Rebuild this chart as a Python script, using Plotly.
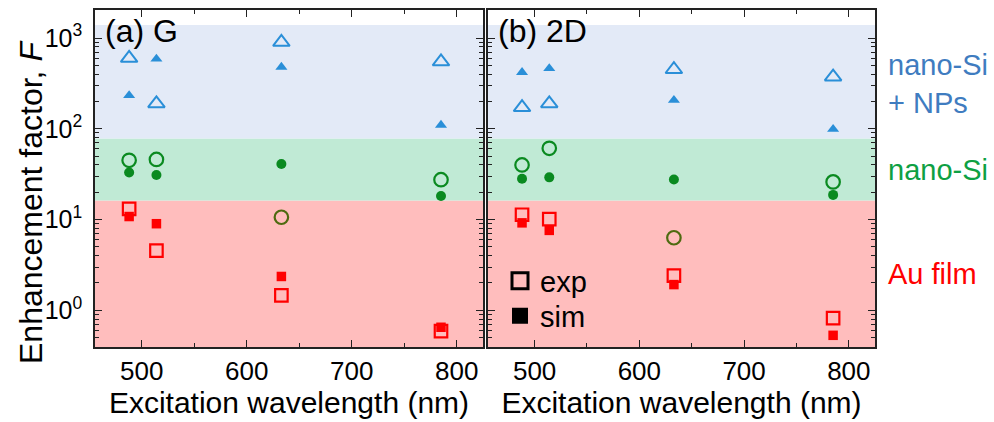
import plotly.graph_objects as go

# ---------------- data ----------------
wavelengths = [488, 514, 633, 785]

# (a) G band
g_np_exp = [600, 190, 900, 550]
g_np_sim = [233, 590, 480, 110]
g_si_exp = [45, 46, 10.6, 27.5]
g_si_sim = [33, 31, 41, 18.2]
g_au_exp = [13.1, 4.55, 1.46, 0.59]
g_au_sim = [10.8, 9.0, 2.36, 0.65]

# (b) 2D band
d_np_exp = [172, 190, 452, 374]
d_np_sim = [419, 463, 207, 99]
d_si_exp = [40, 61, 6.3, 26]
d_si_sim = [28.2, 29.2, 27.6, 18.7]
d_au_exp = [11.3, 10.1, 2.41, 0.82]
d_au_sim = [9.2, 7.6, 1.92, 0.53]

band_edges = [0.394, 16.2, 78, 1390]
band_colors = ["#ffbdbd", "#c0ead5", "#e3eaf7"]

y_tickvals = [1, 10, 100, 1000]
y_ticktext = ["10<sup>0</sup>", "10<sup>1</sup>", "10<sup>2</sup>", "10<sup>3</sup>"]
x_tickvals = [500, 600, 700, 800]
x_range = [455.5, 825]

# ---------------- styles ----------------
BLUE = "#2a8fd8"
GREEN = "#0a8a20"
RED = "#ff0000"
OLIVE = "#4e6a10"
FONT = "Liberation Sans, Arial, sans-serif"
AXC = "#222222"

fig = go.Figure()

panels = [
    ("x", "y", g_np_exp, g_np_sim, g_si_exp, g_si_sim, g_au_exp, g_au_sim),
    ("x2", "y2", d_np_exp, d_np_sim, d_si_exp, d_si_sim, d_au_exp, d_au_sim),
]

si_exp_colors = [OLIVE if w == 633 else GREEN for w in wavelengths]

for xa, ya, np_e, np_s, si_e, si_s, au_e, au_s in panels:
    # filled (sim) markers
    fig.add_trace(go.Scatter(x=wavelengths, y=np_s, xaxis=xa, yaxis=ya, mode="markers",
                             marker=dict(symbol="triangle-up", size=10.5, color=BLUE, line=dict(width=0)),
                             showlegend=False))
    fig.add_trace(go.Scatter(x=wavelengths, y=si_s, xaxis=xa, yaxis=ya, mode="markers",
                             marker=dict(symbol="circle", size=10, color=GREEN, line=dict(width=0)),
                             showlegend=False))
    fig.add_trace(go.Scatter(x=wavelengths, y=au_s, xaxis=xa, yaxis=ya, mode="markers",
                             marker=dict(symbol="square", size=9.5, color=RED, line=dict(width=0)),
                             showlegend=False))
    # open (exp) markers
    fig.add_trace(go.Scatter(x=wavelengths, y=np_e, xaxis=xa, yaxis=ya, mode="markers",
                             marker=dict(symbol="triangle-up-open", size=14.5, color=BLUE,
                                         line=dict(width=2, color=BLUE)),
                             showlegend=False))
    fig.add_trace(go.Scatter(x=wavelengths, y=si_e, xaxis=xa, yaxis=ya, mode="markers",
                             marker=dict(symbol="circle-open", size=13.5, color=si_exp_colors,
                                         line=dict(width=2.2, color=si_exp_colors)),
                             showlegend=False))
    fig.add_trace(go.Scatter(x=wavelengths, y=au_e, xaxis=xa, yaxis=ya, mode="markers",
                             marker=dict(symbol="square-open", size=12.5, color=RED,
                                         line=dict(width=2.2, color=RED)),
                             showlegend=False))

    # background bands
    for i in range(3):
        fig.add_shape(type="rect", xref=f"{xa} domain", yref=ya, x0=0, x1=1,
                      y0=band_edges[i], y1=band_edges[i + 1],
                      fillcolor=band_colors[i], line=dict(width=0), layer="below")

# legend traces (exp / sim)
fig.add_trace(go.Scatter(x=[None], y=[None], mode="markers", name="exp", legend="legend",
                         marker=dict(symbol="square-open", size=16, color="black",
                                     line=dict(width=3, color="black"))))
fig.add_trace(go.Scatter(x=[None], y=[None], mode="markers", name="sim", legend="legend2",
                         marker=dict(symbol="square", size=16, color="black")))

common_x = dict(range=x_range, tickvals=x_tickvals, ticks="inside", ticklen=7, tickwidth=1.3,
                tickcolor=AXC, showline=True, linecolor=AXC, linewidth=1.5, mirror="allticks",
                showgrid=False, zeroline=False,
                minor=dict(ticks="inside", ticklen=4, dtick=50, tick0=450, tickcolor=AXC, showgrid=False),
                tickfont=dict(family=FONT, size=26, color="black"),
                title=dict(text="Excitation wavelength (nm)", font=dict(family=FONT, size=30, color="black"),
                           standoff=7))

minor_vals = [m * 10 ** e for e in range(-1, 4) for m in range(2, 10)]
common_y = dict(type="log", range=[-0.4045, 3.3096], tickvals=y_tickvals, ticktext=y_ticktext,
                ticks="inside", ticklen=7, tickwidth=1.3, tickcolor=AXC, showline=True,
                linecolor=AXC, linewidth=1.5, mirror="allticks", showgrid=False, zeroline=False,
                minor=dict(ticks="inside", ticklen=4, tickvals=minor_vals, tickcolor=AXC, showgrid=False),
                tickfont=dict(family=FONT, size=25, color="black"))

leg_common = dict(xanchor="left", yanchor="middle", bgcolor="rgba(0,0,0,0)",
                  font=dict(family=FONT, size=29, color="black"), itemsizing="trace")

fig.update_layout(
    width=994, height=422, margin=dict(l=0, r=0, t=0, b=0),
    paper_bgcolor="white", plot_bgcolor="rgba(0,0,0,0)",
    xaxis=dict(domain=[95 / 994, 483 / 994], anchor="y", **common_x),
    xaxis2=dict(domain=[488 / 994, 875 / 994], anchor="y2", **common_x),
    yaxis=dict(domain=[1 - 347 / 422, 1 - 10 / 422], anchor="x", ticklabelstandoff=6, **common_y),
    yaxis2=dict(domain=[1 - 347 / 422, 1 - 10 / 422], anchor="x2", showticklabels=False, **common_y),
    showlegend=True,
    legend=dict(x=500 / 994, y=1 - 281 / 422, **leg_common),
    legend2=dict(x=500 / 994, y=1 - 316 / 422, **leg_common),
)

ann_font = lambda c, s=29: dict(family=FONT, size=s, color=c)
annotations = [
    dict(x=103 / 994, y=1 - 31 / 422, text="(a) G", font=ann_font("black", 32)),
    dict(x=496 / 994, y=1 - 31 / 422, text="(b) 2D", font=ann_font("black", 32)),
    dict(x=886 / 994, y=1 - 84 / 422, text="nano-Si<br>+ NPs", font=ann_font("#3f7cc0")),
    dict(x=886 / 994, y=1 - 170 / 422, text="nano-Si", font=ann_font("#0ea043")),
    dict(x=886 / 994, y=1 - 274 / 422, text="Au film", font=ann_font("#ff0000")),
]
for a in annotations:
    fig.add_annotation(xref="paper", yref="paper", xanchor="left", yanchor="middle",
                       showarrow=False, align="left", **a)

fig.add_annotation(xref="paper", yref="paper", x=31 / 994, y=1 - 202 / 422,
                   text="Enhancement factor, <i>F</i>", textangle=-90, showarrow=False,
                   xanchor="center", yanchor="middle", font=ann_font("black", 32))

fig.write_html("out.html")
